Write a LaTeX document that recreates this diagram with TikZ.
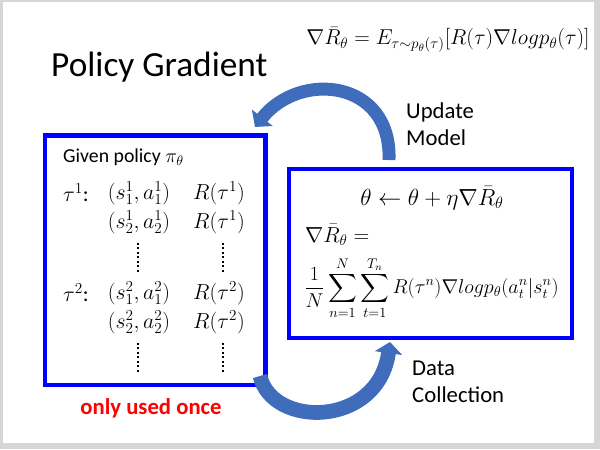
\RequirePackage{fix-cm}
\documentclass[tikz,border=0pt]{standalone}
\usepackage{amsmath, amssymb}
\usepackage{fontspec}
\setmainfont{Carlito}
\usetikzlibrary{arrows.meta, positioning, fit}
\definecolor{boxblue}{RGB}{0, 0, 255}
\definecolor{arrowblue}{RGB}{64, 108, 188}
\definecolor{slidegray}{RGB}{214, 214, 214}
\definecolor{onceRed}{RGB}{255, 0, 0}

\tikzset{
  boxline/.style={draw=boxblue, line width=4.2pt, inner sep=0pt},
  bigarrow/.style={draw=arrowblue, line width=11pt, -{Triangle[width=22pt, length=10pt]}},
  dotcol/.style={line width=1.6pt, dash pattern=on 1.6pt off 2.2pt},
  lbl/.style={font=\fontsize{19.3}{23}\selectfont, align=left, anchor=west, inner sep=0pt},
  mathL/.style={font=\fontsize{18.5}{21}\selectfont, inner sep=0pt},
}

\begin{document}
\begin{tikzpicture}[x=0.85pt, y=-0.85pt]
  % slide
  \useasboundingbox (0,0) rectangle (600,449);
  \fill[slidegray] (0,0) rectangle (600,449);
  \fill[white] (3,2) rectangle (594,443);

  % title and objective
  \node[anchor=west, inner sep=0pt, font=\fontsize{30}{36}\selectfont] (title) at (51,67) {Policy Gradient};
  \node[font=\fontsize{18.3}{22}\selectfont] (objective) at (448,40)
    {$\nabla\bar{R}_\theta = E_{\tau\sim p_\theta(\tau)}[R(\tau)\nabla log p_\theta(\tau)]$};

  % sampled trajectories
  \node[boxline, fit={(45,135.5) (265.5,385)}] (trajbox) {};
  \node[anchor=west, inner sep=0pt, font=\fontsize{16.8}{20}\selectfont] (given) at (63,157) {Given policy $\pi_\theta$};
  \node[mathL, anchor=west] (tau1) at (63,193) {$\tau^1$:};
  \node[mathL] (sa11) at (139,193) {$(s_1^1,a_1^1)$};
  \node[mathL] (r11) at (219,193) {$R(\tau^1)$};
  \node[mathL] (sa12) at (139,222) {$(s_2^1,a_2^1)$};
  \node[mathL] (r12) at (219,222) {$R(\tau^1)$};
  \draw[dotcol] (138,243) -- (138,272);
  \draw[dotcol] (223,243) -- (223,272);
  \node[mathL, anchor=west] (tau2) at (63,293) {$\tau^2$:};
  \node[mathL] (sa21) at (139,293) {$(s_1^2,a_1^2)$};
  \node[mathL] (r21) at (219,293) {$R(\tau^2)$};
  \node[mathL] (sa22) at (139,322) {$(s_2^2,a_2^2)$};
  \node[mathL] (r22) at (219,322) {$R(\tau^2)$};
  \draw[dotcol] (138,343) -- (138,372);
  \draw[dotcol] (223,343) -- (223,372);
  \node[font=\fontsize{19.3}{23}\selectfont\bfseries, text=onceRed] (once) at (151,408) {only used once};

  % update step
  \node[boxline, fit={(289,169) (572,338)}] (updbox) {};
  \node[font=\fontsize{19.8}{23}\selectfont] (rule) at (432,198) {$\theta \leftarrow \theta + \eta\nabla\bar{R}_\theta$};
  \node[anchor=west, inner sep=0pt, font=\fontsize{18.5}{22}\selectfont] (gradeq) at (305,235) {$\nabla\bar{R}_\theta =$};
  \node[anchor=west, inner sep=0pt, font=\fontsize{17}{20}\selectfont] (estim) at (304,288)
    {$\displaystyle \frac{1}{N}\sum_{n=1}^{N}\sum_{t=1}^{T_n} R(\tau^n)\nabla log p_\theta(a_t^n|s_t^n)$};

  % loop arrows
  \coordinate (updtail) at (389,160);
  \coordinate (updtip) at (255,127);
  \draw[bigarrow] (updtail) .. controls (392,80) and (300,70) .. (updtip);
  \coordinate (coltail) at (260,376);
  \coordinate (coltip) at (390,342);
  \draw[bigarrow, line width=12.5pt, -{Triangle[width=23pt, length=9.5pt]}] (coltail) .. controls (272,428) and (378,428) .. (coltip);

  \node[lbl] (updlbl) at (406,124.5) {Update\\Model};
  \node[lbl] (collbl) at (412,381.5) {Data\\Collection};
\end{tikzpicture}
\end{document}
